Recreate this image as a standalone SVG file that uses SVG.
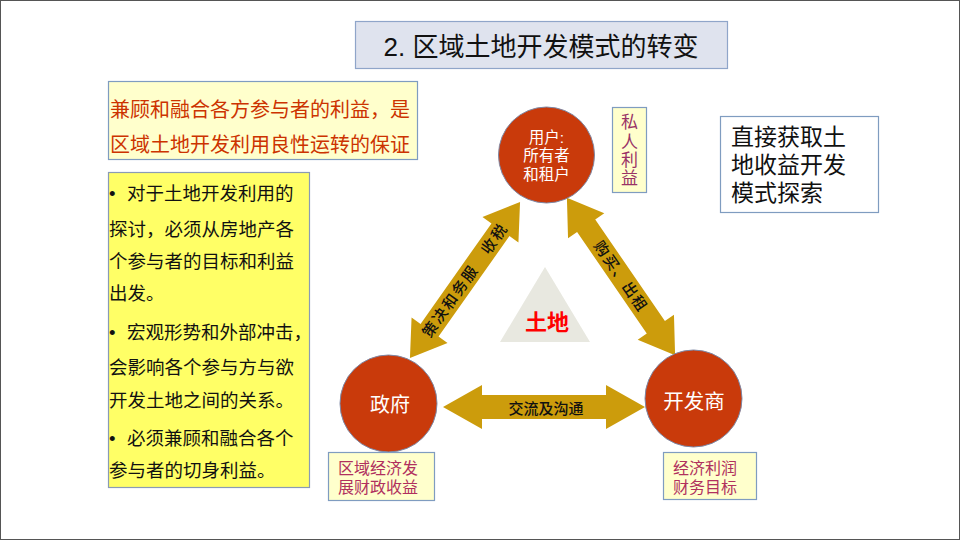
<svg xmlns="http://www.w3.org/2000/svg" width="960" height="540" viewBox="0 0 960 540">
<style>
text{font-family:"Liberation Sans","Noto Sans CJK SC",sans-serif;}
.note{fill:#ffffcc;stroke:#7f9cc0;stroke-width:1.2;}
.circ{fill:#c93a0b;stroke:#7d88a6;stroke-width:1;}
.arrow{fill:#cc9c0c;}
.ctext{fill:#ffffff;text-anchor:middle;}
.body{font-size:18.5px;fill:#111;}
.red{fill:#cc3300;font-size:20px;}
.mag{fill:#b0305e;font-size:16px;}
.alab{font-size:15px;fill:#111;text-anchor:middle;font-weight:500;}
</style>
<rect x="0.5" y="0.5" width="959" height="539" fill="#ffffff" stroke="#555555" stroke-width="1"/>

<g id="title">
<rect x="355.5" y="21.5" width="372" height="47" fill="#dfe3ee" stroke="#8fa5c9" stroke-width="1.2"/>
<text x="541" y="56" font-size="26" text-anchor="middle" fill="#111">2. 区域土地开发模式的转变</text>
</g>

<g id="principle">
<rect class="note" x="108.5" y="81.5" width="309" height="78"/>
<text class="red" x="110" y="117">兼顾和融合各方参与者的利益，是</text>
<text class="red" x="110" y="152">区域土地开发利用良性运转的保证</text>
</g>

<g id="points">
<rect x="108.5" y="172.5" width="201" height="315" fill="#ffff66" stroke="#8a9bb5" stroke-width="1.2"/>
<text class="body" x="109" y="200">•</text>
<text class="body" x="127" y="200">对于土地开发利用的</text>
<text class="body" x="109" y="236">探讨，必须从房地产各</text>
<text class="body" x="109" y="268">个参与者的目标和利益</text>
<text class="body" x="109" y="300">出发。</text>
<text class="body" x="109" y="339">•</text>
<text class="body" x="127" y="339">宏观形势和外部冲击，</text>
<text class="body" x="109" y="374">会影响各个参与方与欲</text>
<text class="body" x="109" y="407">开发土地之间的关系。</text>
<text class="body" x="109" y="445">•</text>
<text class="body" x="127" y="445">必须兼顾和融合各个</text>
<text class="body" x="109" y="477">参与者的切身利益。</text>
</g>

<g id="explore">
<rect x="720.5" y="116.5" width="158" height="96" fill="#ffffff" stroke="#7f9cc0" stroke-width="1.2"/>
<text x="731" y="145" font-size="23" fill="#111">直接获取土</text>
<text x="731" y="173" font-size="23" fill="#111">地收益开发</text>
<text x="731" y="201" font-size="23" fill="#111">模式探索</text>
</g>

<g id="land">
<polygon points="545,267 590,342 500,342" fill="#e8e8e0"/>
<text x="547" y="330" font-size="22" fill="#ff0000" text-anchor="middle" font-weight="bold">土地</text>
</g>

<g id="connectors">
<g transform="translate(465,280) rotate(-54.8)">
<polygon class="arrow" points="-95.5,0 -61.5,-22 -61.5,-11 61.5,-11 61.5,-22 95.5,0 61.5,22 61.5,11 -61.5,11 -61.5,22"/>
<text class="alab" x="0" y="5.5" letter-spacing="2">策决和务服　收税</text>
</g>
<g transform="translate(621,276.5) rotate(55.5)">
<polygon class="arrow" points="-95.5,0 -61.5,-22 -61.5,-11 61.5,-11 61.5,-22 95.5,0 61.5,22 61.5,11 -61.5,11 -61.5,22"/>
<text class="alab" x="0" y="5.5" letter-spacing="1.5">购买、出租</text>
</g>
<g transform="translate(544,407)">
<polygon class="arrow" points="-101,0 -62,-22 -62,-12 62,-12 62,-22 101,0 62,22 62,12 -62,12 -62,22"/>
<text class="alab" x="2" y="7" font-size="16" font-weight="bold">交流及沟通</text>
</g>
</g>

<g id="users">
<circle class="circ" cx="546.5" cy="155" r="48"/>
<text class="ctext" x="546.5" y="143" font-size="15.5">用户:</text>
<text class="ctext" x="546.5" y="161" font-size="15.5">所有者</text>
<text class="ctext" x="546.5" y="180" font-size="15.5">和租户</text>
</g>

<g id="private">
<rect class="note" x="612.5" y="107.5" width="34" height="85"/>
<text x="629.5" y="128" font-size="17" fill="#993366" text-anchor="middle">私</text>
<text x="629.5" y="148" font-size="17" fill="#993366" text-anchor="middle">人</text>
<text x="629.5" y="166" font-size="17" fill="#993366" text-anchor="middle">利</text>
<text x="629.5" y="184" font-size="17" fill="#993366" text-anchor="middle">益</text>
</g>

<g id="government">
<circle class="circ" cx="388.5" cy="403.5" r="48.5"/>
<text class="ctext" x="390" y="412" font-size="20">政府</text>
</g>

<g id="developer">
<circle class="circ" cx="693.5" cy="398.5" r="48.5"/>
<text class="ctext" x="694" y="409" font-size="20.5">开发商</text>
</g>

<g id="gov-goal">
<rect class="note" x="328.5" y="452.5" width="106" height="48"/>
<text class="mag" x="338" y="474">区域经济发</text>
<text class="mag" x="338" y="493">展财政收益</text>
</g>

<g id="dev-goal">
<rect class="note" x="663.5" y="452.5" width="93" height="47"/>
<text class="mag" x="673" y="474">经济利润</text>
<text class="mag" x="673" y="493">财务目标</text>
</g>
</svg>
